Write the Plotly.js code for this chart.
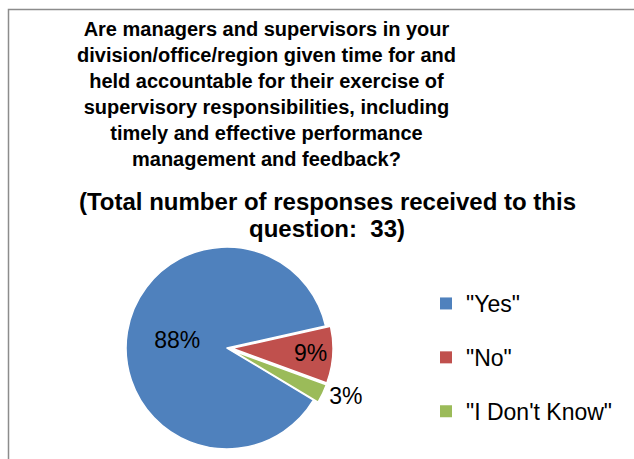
<!DOCTYPE html>
<html>
<head>
<meta charset="utf-8">
<script src="https://cdn.plot.ly/plotly-3.0.1.min.js"></script>
<style>
  html, body { margin: 0; padding: 0; background: #ffffff; }
  #chart { width: 634px; height: 459px; }
</style>
</head>
<body>
<div id="chart"></div>
<script>
// ---- data ----
const categories = ['"Yes"', '"No"', '"I Don\'t Know"'];
const responses = [29, 3, 1];
const sliceColors = ['#4F81BD', '#C0504D', '#9BBB59'];
const titleLines = [
  'Are managers and supervisors in your',
  'division/office/region given time for and',
  'held accountable for their exercise of',
  'supervisory responsibilities, including',
  'timely and effective performance',
  'management and feedback?'
];
const subtitleLines = [
  '(Total number of responses received to this',
  'question:&nbsp; 33)'
];

const W = 634, H = 459;
const FONT = 'Liberation Sans, Arial, sans-serif';

const pie = {
  type: 'pie',
  labels: categories,
  values: responses,
  sort: false,
  direction: 'clockwise',
  rotation: 121,
  pull: [0, 0.05, 0.05],
  marker: { colors: sliceColors, line: { color: '#ffffff', width: 1.5 } },
  texttemplate: '%{percent:.0%}',
  textposition: ['inside', 'inside', 'outside'],
  insidetextorientation: 'horizontal',
  textfont: { family: FONT, size: 23, color: '#000000' },
  insidetextfont: { family: FONT, size: 23, color: '#000000' },
  outsidetextfont: { family: FONT, size: 23, color: '#000000' },
  showlegend: false,
  hoverinfo: 'skip',
  domain: { x: [121 / W, 333 / W], y: [5 / H, 217 / H] }
};

// legend entries (one per category, so they can be spaced like the original)
const legendTraces = categories.map((c, i) => ({
  type: 'scatter',
  mode: 'markers',
  x: [null], y: [null],
  name: c,
  legendgroup: 'g' + i,
  marker: { symbol: 'square', size: 12, color: sliceColors[i] },
  hoverinfo: 'skip'
}));

const subtitleY = [201, 228];

const layout = {
  width: W, height: H,
  margin: { l: 0, r: 0, t: 0, b: 0 },
  paper_bgcolor: '#ffffff',
  plot_bgcolor: '#ffffff',
  font: { family: FONT, color: '#000000' },
  xaxis: { visible: false },
  yaxis: { visible: false },
  showlegend: true,
  legend: {
    x: 426 / W, xanchor: 'left',
    y: 1 - 282 / H, yanchor: 'top',
    font: { family: FONT, size: 23, color: '#000000' },
    tracegroupgap: 21,
    bgcolor: 'rgba(0,0,0,0)',
    borderwidth: 0
  },
  annotations: [
    {
      xref: 'paper', yref: 'paper',
      x: 266 / W, y: 1 - 94 / H, xanchor: 'center', yanchor: 'middle',
      text: '<b>' + titleLines.join('<br>') + '</b>',
      showarrow: false,
      font: { family: FONT, size: 20, color: '#000000' },
      align: 'center'
    }
  ].concat(subtitleLines.map((t, i) => ({
      xref: 'paper', yref: 'paper',
      x: 327 / W, y: 1 - subtitleY[i] / H, xanchor: 'center', yanchor: 'middle',
      text: '<b>' + t + '</b>',
      showarrow: false,
      font: { family: FONT, size: 24, color: '#000000' },
      align: 'center'
  }))),
  shapes: [
    {
      type: 'rect', xref: 'paper', yref: 'paper',
      x0: 8.5 / W, x1: 1.2, y0: -0.2, y1: 1 - 9.5 / H,
      line: { color: '#8c8c8c', width: 1.5 },
      fillcolor: 'rgba(0,0,0,0)',
      layer: 'below'
    }
  ]
};

Plotly.newPlot('chart', [pie].concat(legendTraces), layout, { staticPlot: true, displayModeBar: false });
</script>
</body>
</html>
